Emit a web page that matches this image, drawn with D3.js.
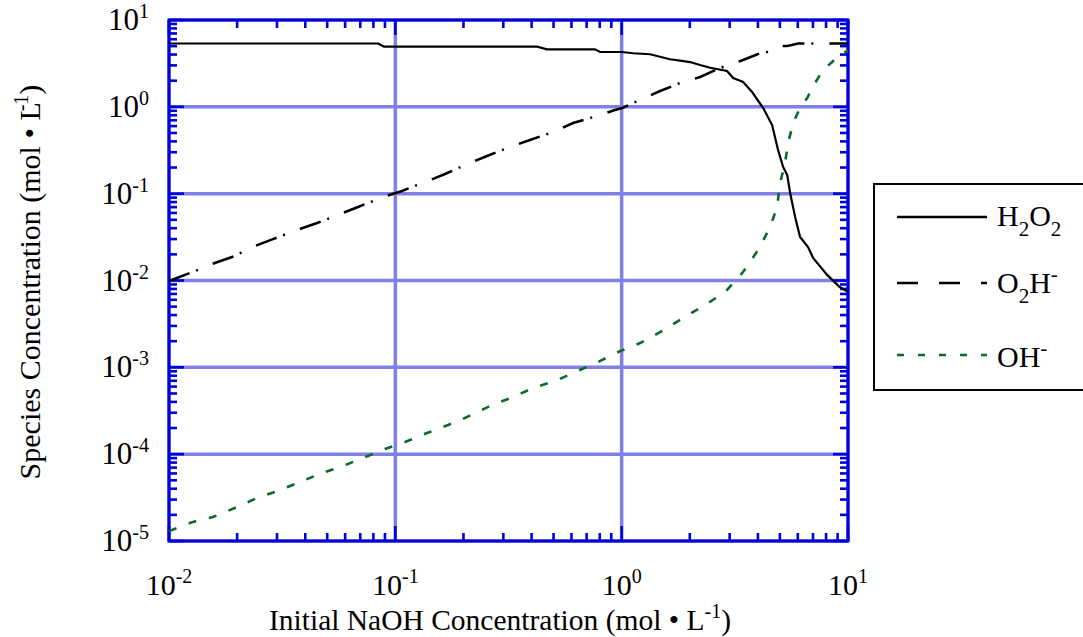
<!DOCTYPE html>
<html>
<head>
<meta charset="utf-8">
<script src="https://cdn.jsdelivr.net/npm/d3@7"></script>
<style>
  html, body { margin: 0; padding: 0; background: #fff; }
  svg { display: block; }
  text { font-family: "Liberation Serif", "Times New Roman", serif; fill: #000; }
</style>
</head>
<body>
<svg id="chart" width="1083" height="637"></svg>
<script>
// Species concentrations vs. initial NaOH concentration (mol/L)
const h2o2X = [0.01, 0.0839, 0.0891, 0.423, 0.468, 0.762, 0.803, 1.0, 1.123, 1.335, 1.636, 1.81, 2.005, 2.22, 2.46, 2.92, 3.11, 3.44, 3.77, 4.22, 4.62, 4.91, 5.17, 5.39, 5.55, 5.84, 6.14, 6.66, 7.01, 8.09, 9.19, 10];
const h2o2Y = [5.36, 5.36, 4.93, 4.93, 4.60, 4.60, 4.28, 4.28, 4.14, 4.03, 3.53, 3.40, 3.28, 3.03, 2.82, 2.59, 2.15, 1.93, 1.48, 0.969, 0.617, 0.318, 0.203, 0.164, 0.102, 0.0538, 0.0317, 0.0243, 0.0182, 0.0116, 0.0084, 0.0074];

const o2hX = [0.01, 0.01238, 0.01549, 0.01898, 0.024, 0.0288, 0.0368, 0.0451, 0.057, 0.0684, 0.0882, 0.1071, 0.1353, 0.1658, 0.2032, 0.2542, 0.3212, 0.3937, 0.4975, 0.6098, 0.7785, 0.935, 1.004, 1.206, 1.478, 1.812, 2.222, 2.722, 3.44, 4.007, 4.39, 5.01, 5.39, 6.02, 10];
const o2hY = [0.00986, 0.01219, 0.01549, 0.01865, 0.02495, 0.0300, 0.0382, 0.0459, 0.0583, 0.0702, 0.0915, 0.1073, 0.1362, 0.1684, 0.2138, 0.2715, 0.3447, 0.415, 0.513, 0.6513, 0.7843, 0.9194, 0.969, 1.198, 1.521, 1.881, 2.206, 2.801, 3.462, 4.06, 4.28, 5.02, 5.02, 5.36, 5.36];

const ohX = [0.01, 0.01277, 0.01565, 0.01998, 0.02448, 0.0303, 0.0379, 0.0474, 0.0587, 0.072, 0.0901, 0.1104, 0.138, 0.171, 0.203, 0.2675, 0.331, 0.406, 0.508, 0.655, 0.786, 0.964, 1.206, 1.508, 1.867, 2.336, 2.864, 3.44, 4.007, 4.53, 4.86, 5.01, 5.27, 5.44, 5.72, 6.14, 6.60, 7.15, 7.76, 8.51, 9.04, 10];
const ohY = [1.30e-5, 1.66e-5, 1.89e-5, 2.46e-5, 3.13e-5, 3.77e-5, 4.78e-5, 6.07e-5, 7.31e-5, 9.04e-5, 1.147e-4, 1.38e-4, 1.75e-4, 2.17e-4, 2.61e-4, 3.68e-4, 4.55e-4, 5.78e-4, 6.96e-4, 9.31e-4, 1.151e-3, 1.501e-3, 1.905e-3, 2.62e-3, 3.70e-3, 5.22e-3, 7.37e-3, 0.01253, 0.02245, 0.0413, 0.0702, 0.1327, 0.2254, 0.3833, 0.651, 0.969, 1.264, 1.881, 2.656, 3.28, 3.85, 4.45];

const xExponents = [-2, -1, 0, 1];
const yExponents = [-5, -4, -3, -2, -1, 0, 1];

const xTitle = "Initial NaOH Concentration (mol \u2022 L";
const yTitle = "Species Concentration (mol \u2022 L";

const svg = d3.select("#chart");
const plotLeft = 169, plotRight = 848, plotTop = 20, plotBottom = 541;

const x = d3.scaleLog().domain([0.01, 10]).range([plotLeft, plotRight]);
const y = d3.scaleLog().domain([1e-5, 10]).range([plotBottom, plotTop]);

const gridColor = "#8080e8";
const axisColor = "#0000dc";

// Major grid lines
const grid = svg.append("g");
xExponents.forEach(e => {
  grid.append("line")
    .attr("x1", x(Math.pow(10, e))).attr("x2", x(Math.pow(10, e)))
    .attr("y1", plotTop).attr("y2", plotBottom)
    .attr("stroke", gridColor).attr("stroke-width", 3.5);
});
yExponents.forEach(e => {
  grid.append("line")
    .attr("y1", y(Math.pow(10, e))).attr("y2", y(Math.pow(10, e)))
    .attr("x1", plotLeft).attr("x2", plotRight)
    .attr("stroke", gridColor).attr("stroke-width", 3.5);
});

// Inward tick marks on all four sides
function tickValues(scale) {
  const [a, b] = scale.domain();
  const vals = [];
  for (let e = Math.round(Math.log10(a)); e <= Math.round(Math.log10(b)); e++) {
    for (let m = 1; m <= 9; m++) {
      const v = m * Math.pow(10, e);
      if (v >= a * 0.999 && v <= b * 1.001) vals.push({ v, major: m === 1 });
    }
  }
  return vals;
}
const ticks = svg.append("g").attr("stroke", axisColor).attr("stroke-width", 2.6);
tickValues(x).forEach(t => {
  const len = t.major ? 15 : 8;
  const px = x(t.v);
  ticks.append("line").attr("x1", px).attr("x2", px).attr("y1", plotBottom).attr("y2", plotBottom - len);
  ticks.append("line").attr("x1", px).attr("x2", px).attr("y1", plotTop).attr("y2", plotTop + len);
});
tickValues(y).forEach(t => {
  const len = t.major ? 15 : 8;
  const py = y(t.v);
  ticks.append("line").attr("y1", py).attr("y2", py).attr("x1", plotLeft).attr("x2", plotLeft + len);
  ticks.append("line").attr("y1", py).attr("y2", py).attr("x1", plotRight).attr("x2", plotRight - len);
});

// Plot frame
svg.append("rect")
  .attr("x", plotLeft).attr("y", plotTop)
  .attr("width", plotRight - plotLeft).attr("height", plotBottom - plotTop)
  .attr("fill", "none").attr("stroke", axisColor).attr("stroke-width", 3);

// Tick labels as 10 with superscript exponents
function powerLabel(sel, e) {
  sel.append("tspan").text("10");
  sel.append("tspan").attr("font-size", 20).attr("dy", -12).text(String(e));
}
xExponents.forEach(e => {
  const t = svg.append("text")
    .attr("x", x(Math.pow(10, e))).attr("y", 595)
    .attr("text-anchor", "middle").attr("font-size", 30);
  powerLabel(t, e);
});
yExponents.forEach(e => {
  const t = svg.append("text")
    .attr("x", 149).attr("y", y(Math.pow(10, e)) + 10)
    .attr("text-anchor", "end").attr("font-size", 31);
  powerLabel(t, e);
});

// Axis titles
const xt = svg.append("text")
  .attr("x", 500).attr("y", 630)
  .attr("text-anchor", "middle").attr("font-size", 29.5);
xt.append("tspan").text(xTitle);
xt.append("tspan").attr("font-size", 20).attr("dy", -12).text("-1");
xt.append("tspan").attr("dy", 12).text(")");

const yt = svg.append("text")
  .attr("transform", "translate(40,282) rotate(-90)")
  .attr("text-anchor", "middle").attr("font-size", 30);
yt.append("tspan").text(yTitle);
yt.append("tspan").attr("font-size", 20).attr("dy", -12).attr("dx", -9).text("-1");
yt.append("tspan").attr("dy", 12).text(")");

// Curves
const line = d3.line().x(d => x(d[0])).y(d => y(d[1]));
const zip = (a, b) => a.map((v, i) => [v, b[i]]);

svg.append("path").datum(zip(h2o2X, h2o2Y))
  .attr("d", line).attr("fill", "none")
  .attr("stroke", "#000").attr("stroke-width", 2.2);

svg.append("path").datum(zip(o2hX, o2hY))
  .attr("d", line).attr("fill", "none")
  .attr("stroke", "#000").attr("stroke-width", 2.5)
  .attr("stroke-dasharray", "22,7,2,16");

svg.append("path").datum(zip(ohX, ohY))
  .attr("d", line).attr("fill", "none")
  .attr("stroke", "#0b6a2c").attr("stroke-width", 2.6)
  .attr("stroke-dasharray", "8,13");

// Legend
const legend = svg.append("g");
legend.append("rect")
  .attr("x", 874).attr("y", 184).attr("width", 260).attr("height", 206)
  .attr("fill", "#fff").attr("stroke", "#000").attr("stroke-width", 2);

const entries = [
  { ly: 217, ty: 226, stroke: "#000", dash: null, parts: [["H", 0], ["2", 1], ["O", 0], ["2", 1]] },
  { ly: 283, ty: 293, stroke: "#000", dash: "21,21", parts: [["O", 0], ["2", 1], ["H", 0], ["-", 2]] },
  { ly: 355, ty: 367, stroke: "#0b6a2c", dash: "7,14", parts: [["OH", 0], ["-", 2]] }
];
entries.forEach(en => {
  const l = legend.append("line")
    .attr("x1", 897).attr("x2", 987).attr("y1", en.ly).attr("y2", en.ly)
    .attr("stroke", en.stroke).attr("stroke-width", 2.5);
  if (en.dash) l.attr("stroke-dasharray", en.dash);
  const t = legend.append("text").attr("x", 997).attr("y", en.ty).attr("font-size", 30);
  let shift = 0;
  en.parts.forEach(([s, kind]) => {
    const target = kind === 1 ? 10 : kind === 2 ? -12 : 0;
    t.append("tspan")
      .attr("dy", target - shift)
      .attr("font-size", kind ? 21 : 30)
      .text(s);
    shift = target;
  });
});
</script>
</body>
</html>
